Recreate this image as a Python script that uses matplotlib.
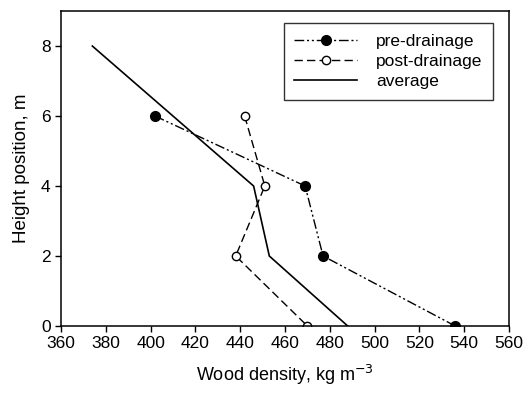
import matplotlib
matplotlib.use('Agg')
import matplotlib.pyplot as plt

plt.rcParams['font.family'] = ['Liberation Sans', 'DejaVu Sans']

# data
height = [6, 4, 2, 0]
pre_drainage = [402, 469, 477, 536]
post_drainage = [442, 451, 438, 470]
avg_height = [8, 4, 2, 0]
average = [374, 446, 453, 488]

fig = plt.figure(figsize=(5.23, 3.95), dpi=100)
ax = fig.add_axes([0.1166, 0.1747, 0.9732 - 0.1166, 0.972 - 0.1747])

ax.plot(pre_drainage, height, color='black', lw=1.0, linestyle=(0, (7, 2, 1.5, 2, 1.5, 2)),
        marker='o', ms=7, mfc='black', mec='black', label='pre-drainage')
ax.plot(post_drainage, height, color='black', lw=1.0, linestyle=(0, (6, 3)),
        marker='o', ms=6, mfc='white', mec='black', mew=1.0, label='post-drainage')
ax.plot(average, avg_height, color='black', lw=1.2, linestyle='-', label='average')

ax.set_xlim(360, 560)
ax.set_ylim(0, 9)
ax.set_xticks(range(360, 561, 20))
ax.set_yticks([0, 2, 4, 6, 8])
ax.tick_params(direction='out', length=4, width=1, labelsize=12.5, colors='black')
for s in ax.spines.values():
    s.set_linewidth(1.1)

ax.set_xlabel('Wood density, kg m$^{-3}$', fontsize=13, labelpad=8)
ax.set_ylabel('Height position, m', fontsize=13.5, labelpad=8)

leg = ax.legend(loc='upper right', bbox_to_anchor=(0.964, 0.962), borderaxespad=0,
                fontsize=12.5, frameon=True, fancybox=False, edgecolor='black',
                handlelength=3.6, handletextpad=1.1, labelspacing=0.3, borderpad=0.6)
leg.get_frame().set_linewidth(1.0)

plt.savefig('out.png', dpi=100)
